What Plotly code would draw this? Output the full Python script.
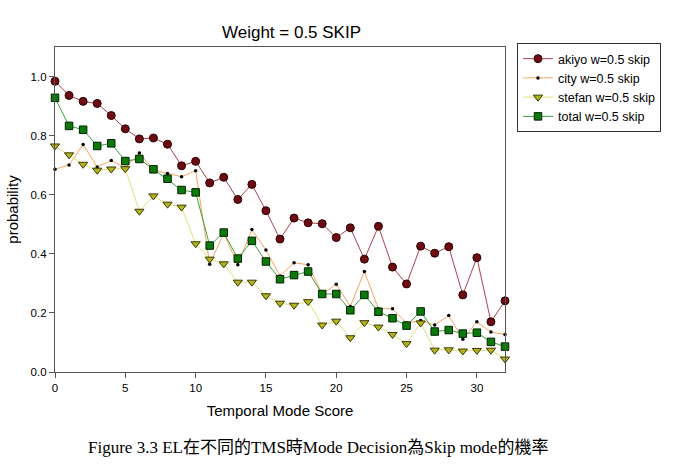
import plotly.graph_objects as go

tms = list(range(33))

akiyo = [0.984, 0.936, 0.916, 0.909, 0.868, 0.823, 0.789, 0.792, 0.771, 0.698,
         0.713, 0.640, 0.659, 0.584, 0.635, 0.546, 0.450, 0.521, 0.505, 0.502,
         0.455, 0.488, 0.382, 0.493, 0.355, 0.298, 0.426, 0.402, 0.424, 0.261,
         0.387, 0.170, 0.241]

city = [0.686, 0.701, 0.770, 0.694, 0.716, 0.691, 0.741, 0.684, 0.672, 0.661,
        0.681, 0.365, 0.470, 0.363, 0.482, 0.413, 0.325, 0.370, 0.363, 0.264,
        0.297, 0.222, 0.340, 0.214, 0.214, 0.166, 0.174, 0.159, 0.191, 0.111,
        0.170, 0.135, 0.127]

stefan = [0.765, 0.735, 0.703, 0.683, 0.687, 0.688, 0.544, 0.596, 0.568, 0.558,
          0.434, 0.382, 0.366, 0.304, 0.304, 0.258, 0.233, 0.226, 0.238, 0.159,
          0.172, 0.116, 0.167, 0.152, 0.127, 0.096, 0.166, 0.074, 0.075, 0.071,
          0.073, 0.074, 0.044]

total = [0.928, 0.833, 0.820, 0.765, 0.774, 0.714, 0.721, 0.686, 0.654, 0.616,
         0.608, 0.428, 0.472, 0.384, 0.444, 0.374, 0.314, 0.328, 0.340, 0.264,
         0.264, 0.209, 0.261, 0.204, 0.182, 0.157, 0.205, 0.137, 0.142, 0.130,
         0.133, 0.102, 0.086]

series_names = ["akiyo w=0.5 skip", "city w=0.5 skip", "stefan w=0.5 skip", "total w=0.5 skip"]
y_ticks = [0.0, 0.2, 0.4, 0.6, 0.8, 1.0]
x_ticks = [0, 5, 10, 15, 20, 25, 30]

fig = go.Figure()
fig.add_trace(go.Scatter(
    x=tms, y=akiyo, name=series_names[0], mode="lines+markers", cliponaxis=False,
    line=dict(color="#A8424F", width=1),
    marker=dict(symbol="circle", size=8, color="#6E0A12", line=dict(color="#2a0000", width=1))))
fig.add_trace(go.Scatter(
    x=tms, y=city, name=series_names[1], mode="lines+markers", cliponaxis=False,
    line=dict(color="#F5A55F", width=1),
    marker=dict(symbol="circle", size=3.5, color="#000000", line=dict(width=0))))
fig.add_trace(go.Scatter(
    x=tms, y=stefan, name=series_names[2], mode="lines+markers", cliponaxis=False,
    line=dict(color="#E2E27A", width=1),
    marker=dict(symbol="triangle-down", size=8, color="#B3B320", line=dict(color="#3a3a00", width=1))))
fig.add_trace(go.Scatter(
    x=tms, y=total, name=series_names[3], mode="lines+markers", cliponaxis=False,
    line=dict(color="#3F9F3F", width=1),
    marker=dict(symbol="square", size=7.5, color="#0B7A0B", line=dict(color="#002200", width=1))))

axis_font = dict(family="Arial, Liberation Sans, sans-serif", size=11.5, color="#000")

fig.update_layout(
    width=673, height=467,
    margin=dict(l=55, r=168, t=47, b=95),
    paper_bgcolor="white", plot_bgcolor="white",
    font=dict(family="Arial, Liberation Sans, sans-serif", color="#000"),
    title=dict(text="Weight = 0.5 SKIP", x=291.5 / 673, xref="container", xanchor="center",
               y=1 - 32 / 467, yref="container", yanchor="middle",
               font=dict(size=17, family="Arial, Liberation Sans, sans-serif", color="#000")),
    xaxis=dict(range=[0, 32], tickvals=x_ticks, ticks="outside", ticklen=5, tickcolor="#555",
               showgrid=False, zeroline=False, showline=True, linecolor="#555", linewidth=1.3,
               mirror=True, tickfont=axis_font,
               title=dict(text="Temporal Mode Score", standoff=12,
                          font=dict(size=15, family="Arial, Liberation Sans, sans-serif"))),
    yaxis=dict(range=[0, 1.1], tickvals=y_ticks, tickformat=".1f", ticks="outside", ticklen=5,
               tickcolor="#555", showgrid=False, zeroline=False, showline=True, linecolor="#555",
               linewidth=1.3, mirror=True, tickfont=axis_font,
               title=dict(text="probability", standoff=8,
                          font=dict(size=15, family="Arial, Liberation Sans, sans-serif"))),
    legend=dict(x=(517 - 55) / 450, y=1 + 4 / 325, xanchor="left", yanchor="top",
                bordercolor="#333", borderwidth=1, bgcolor="white",
                font=dict(size=12.5, family="Arial, Liberation Sans, sans-serif"),
                tracegroupgap=0),
    showlegend=True,
)

fig.add_annotation(
    text="Figure 3.3 EL在不同的TMS時Mode Decision為Skip mode的機率",
    xref="paper", yref="paper", x=(318 - 55) / 450, y=-(447 - 372) / 325,
    xanchor="center", yanchor="middle", showarrow=False,
    font=dict(size=17, family="Times New Roman, Liberation Serif, Noto Sans CJK TC, serif", color="#000"))

fig.write_html("out.html")
